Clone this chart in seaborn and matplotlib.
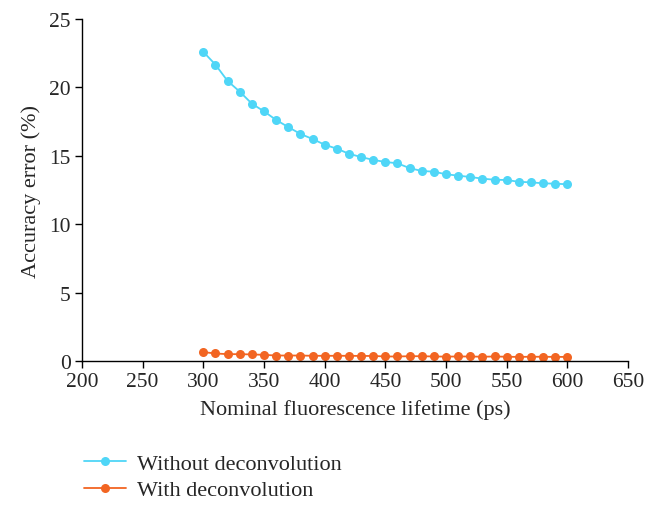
import pandas as pd
import numpy as np
import seaborn as sns
import matplotlib.pyplot as plt

# nominal lifetime (ps)
lifetime = list(range(300, 601, 10))

# accuracy error (%)
without_deconv = [22.6, 21.66, 20.47, 19.69, 18.81, 18.25, 17.62, 17.1, 16.6, 16.23,
                  15.81, 15.52, 15.15, 14.91, 14.7, 14.55, 14.45, 14.1, 13.89, 13.84,
                  13.65, 13.55, 13.45, 13.33, 13.25, 13.23, 13.1, 13.06, 12.99, 12.96,
                  12.92]
with_deconv = [0.65, 0.55, 0.5, 0.5, 0.48, 0.45, 0.4, 0.4, 0.4, 0.38,
               0.38, 0.38, 0.38, 0.37, 0.37, 0.33, 0.33, 0.35, 0.35, 0.33,
               0.32, 0.33, 0.33, 0.31, 0.33, 0.31, 0.3, 0.31, 0.31, 0.3,
               0.3]

labels = ['Without deconvolution', 'With deconvolution']
colors = ['#4fd6f7', '#f26522']

df = pd.DataFrame({
    'Lifetime': lifetime * 2,
    'Error': without_deconv + with_deconv,
    'Series': [labels[0]] * len(lifetime) + [labels[1]] * len(lifetime),
})

sns.set_style('ticks')
plt.rcParams['font.family'] = ['Liberation Serif', 'DejaVu Serif']

fig = plt.figure(figsize=(6.57, 5.10), dpi=100)
ax = fig.add_axes([82 / 657, 1 - 362 / 510, 546 / 657, 342 / 510])

sns.lineplot(data=df, x='Lifetime', y='Error', hue='Series', palette=colors,
             marker='o', markersize=6.5, markeredgewidth=0, linewidth=1.3, ax=ax)

ax.set_xlim(200, 650)
ax.set_ylim(0, 25)
ax.set_xticks(np.arange(200, 651, 50))
ax.set_yticks(np.arange(0, 26, 5))
ax.tick_params(labelsize=15.5, length=5, width=1, color='black', direction='out', pad=3)
for s in ['left', 'bottom']:
    ax.spines[s].set_color('black')
    ax.spines[s].set_linewidth(1)
sns.despine(ax=ax)

ax.set_xlabel('Nominal fluorescence lifetime (ps)', fontsize=16, labelpad=6)
ax.set_ylabel('Accuracy error (%)', fontsize=16, labelpad=6)

ax.legend(loc='upper left', frameon=False,
          fontsize=16, handlelength=1.9, handletextpad=0.5, labelspacing=0.28,
          borderaxespad=0, borderpad=0)
ax.get_legend().set_bbox_to_anchor((2 / 546, -92 / 342), transform=ax.transAxes)

fig.savefig('out.png', dpi=100)
